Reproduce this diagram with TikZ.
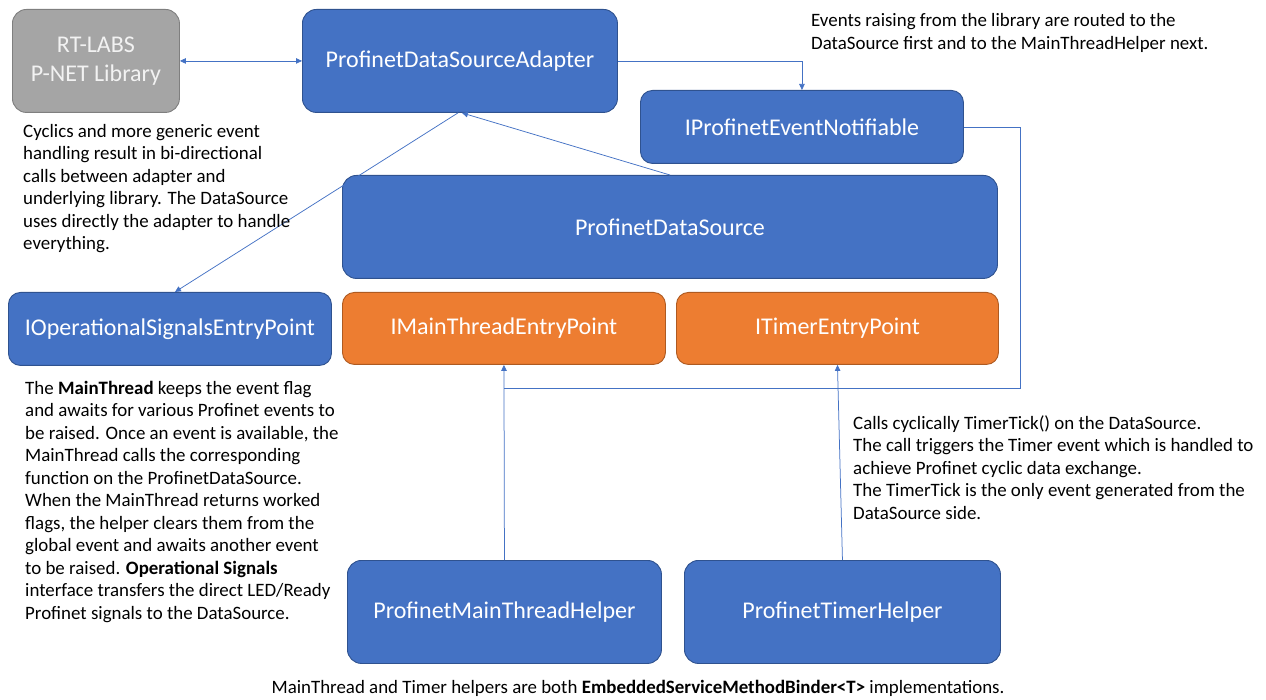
\documentclass[tikz,border=0pt]{standalone}
\usepackage{fontspec}
\setmainfont{Carlito}
\usetikzlibrary{arrows.meta,calc}
\definecolor{boxblue}{HTML}{4472C4}
\definecolor{blueedge}{HTML}{2F528F}
\definecolor{boxorange}{HTML}{ED7D31}
\definecolor{orangeedge}{HTML}{AE5A21}
\definecolor{boxgray}{HTML}{A5A5A5}
\definecolor{grayedge}{HTML}{7F7F7F}
\definecolor{linkblue}{HTML}{4472C4}
\begin{document}
\begin{tikzpicture}[x=1pt,y=-1pt,
  box/.style={rectangle, rounded corners=14pt, line width=0.9pt, anchor=north west,
    text=white, font=\fontsize{24}{29}\selectfont, align=center, inner sep=0pt},
  bluebox/.style={box, fill=boxblue, draw=blueedge},
  orangebox/.style={box, fill=boxorange, draw=orangeedge},
  graybox/.style={box, fill=boxgray, draw=grayedge, text=white!95!black},
  note/.style={anchor=north west, align=left, inner sep=0pt, text=black,
    font=\fontsize{18.9}{22.5}\selectfont},
  link/.style={draw=linkblue, line width=0.75pt, -{Triangle[length=6pt,width=5.5pt]}},
  link2/.style={draw=linkblue, line width=0.75pt, {Triangle[length=6pt,width=5.5pt]}-{Triangle[length=6pt,width=5.5pt]}},
  plain/.style={draw=linkblue, line width=0.75pt}
]
\useasboundingbox (0,0) rectangle (1266,700);

% boxes
\node[graybox, minimum width=167pt, minimum height=103pt] (rt) at (12,9) {RT-LABS\\P-NET Library};
\node[bluebox, minimum width=315pt, minimum height=103pt] (adapter) at (302,9) {ProfinetDataSourceAdapter};
\node[bluebox, minimum width=323pt, minimum height=73pt, rounded corners=12pt] (notif) at (640,90) {IProfinetEventNotifiable};
\node[bluebox, minimum width=655pt, minimum height=103pt] (ds) at (342,175) {ProfinetDataSource};
\node[bluebox, minimum width=323pt, minimum height=73pt, rounded corners=12pt] (ops) at (8,292) {IOperationalSignalsEntryPoint};
\node[orangebox, minimum width=323pt, minimum height=72pt, rounded corners=12pt] (mainep) at (342,292) {IMainThreadEntryPoint};
\node[orangebox, minimum width=322pt, minimum height=72pt, rounded corners=12pt] (timerep) at (676,292) {ITimerEntryPoint};
\node[bluebox, minimum width=314pt, minimum height=103pt] (mthelper) at (347,560) {ProfinetMainThreadHelper};
\node[bluebox, minimum width=316pt, minimum height=103pt] (thelper) at (684,560) {ProfinetTimerHelper};

% connectors
\draw[link2] (rt.east) -- (adapter.west);
\draw[link] (adapter.east) -| (notif.north);
\coordinate (bend) at (1020,388);
\coordinate (join) at (mainep.south |- bend);
\draw[plain] (notif.east) -| (bend) -- (join);
\draw[link] (mthelper.north) -- (mainep.south);
\draw[link] (thelper.north) -- (timerep.south);
\draw[link] (ds.north) -- ($(adapter.south)+(2,0)$);
\draw[link] ($(adapter.south)+(-2,0)$) -- ($(ops.north)+(5,0)$);

% notes
\node[note] (n1) at (23,124) {Cyclics and more generic event\\handling result in bi-directional\\calls between adapter and\\underlying library. The DataSource\\uses directly the adapter to handle\\everything.};
\node[note, font=\fontsize{18.9}{23}\selectfont] (n2) at (811,13) {Events raising from the library are routed to the\\DataSource first and to the MainThreadHelper next.};
\node[note] (n3) at (25,381) {The \textbf{MainThread} keeps the event flag\\and awaits for various Profinet events to\\be raised. Once an event is available, the\\MainThread calls the corresponding\\function on the ProfinetDataSource.\\When the MainThread returns worked\\flags, the helper clears them from the\\global event and awaits another event\\to be raised. \textbf{Operational Signals}\\interface transfers the direct LED/Ready\\Profinet signals to the DataSource.};
\node[note] (n4) at (853,415) {Calls cyclically TimerTick() on the DataSource.\\The call triggers the Timer event which is handled to\\achieve Profinet cyclic data exchange.\\The TimerTick is the only event generated from the\\DataSource side.};
\node[note, anchor=center] (n5) at (638,688) {MainThread and Timer helpers are both \textbf{EmbeddedServiceMethodBinder<T>} implementations.};
\end{tikzpicture}
\end{document}
